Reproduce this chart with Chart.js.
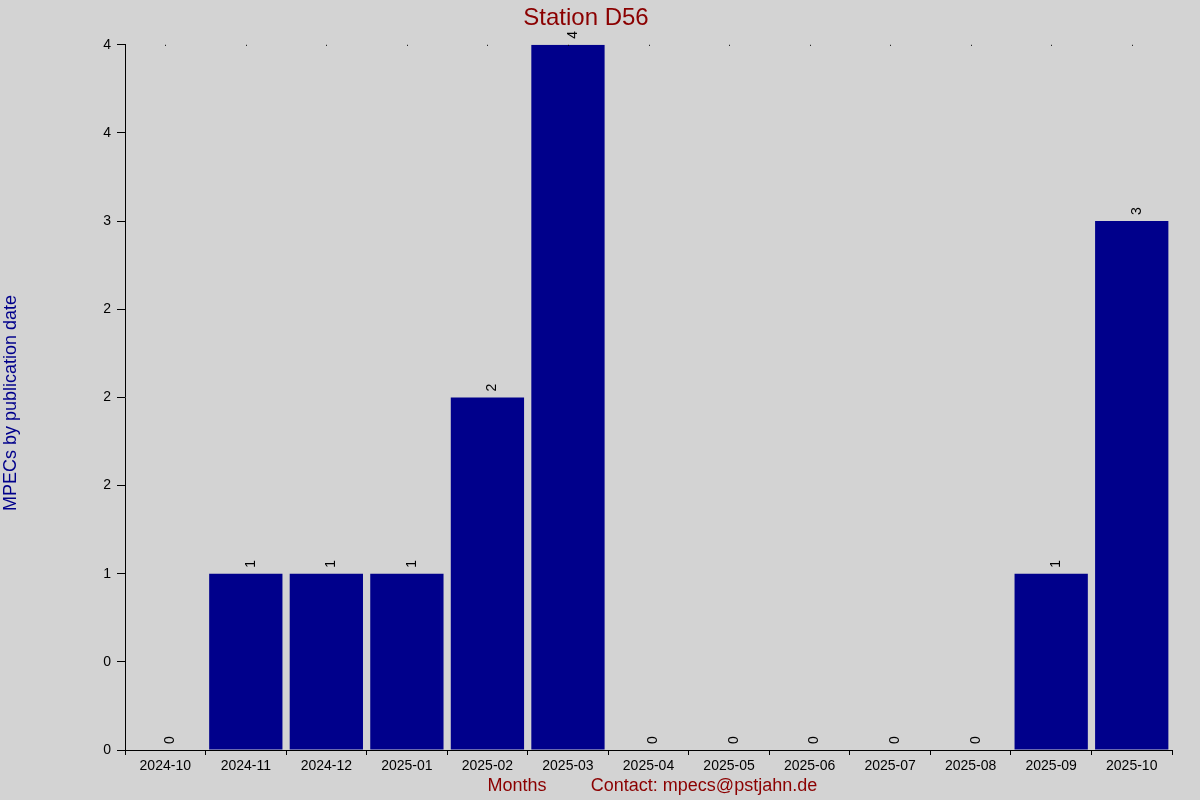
<!DOCTYPE html>
<html><head><meta charset="utf-8">
<script src="https://cdn.jsdelivr.net/npm/chart.js@4"></script>
<style>html,body{margin:0;background:#d3d3d3}#w{width:1200px;height:800px}</style>
</head><body><div id="w"><canvas id="c" width="1200" height="800"></canvas></div>
<script>
const categories=["2024-10","2024-11","2024-12","2025-01","2025-02","2025-03","2025-04","2025-05","2025-06","2025-07","2025-08","2025-09","2025-10"];
const values=[0,1,1,1,2,4,0,0,0,0,0,1,3];
const titleText="Station D56";
const yTitle="MPECs by publication date";
const xTitle="Months";
const contact="Contact: mpecs@pstjahn.de";
const F="'Liberation Sans', Arial, sans-serif";
const fmt=v=>{let r=Math.round(v);if(Math.abs(v-Math.floor(v)-0.5)<1e-9){const f=Math.floor(v);r=(f%2===0)?f:f+1;}return String(r);};
const extras={id:'extras',afterDatasetsDraw(ch){const ctx=ch.ctx;const m=ch.getDatasetMeta(0);ctx.save();ctx.fillStyle='#000';ctx.font='14px '+F;
m.data.forEach((b,i)=>{ctx.save();ctx.translate(b.x+5,b.y-6);ctx.rotate(-Math.PI/2);ctx.textAlign='left';ctx.textBaseline='middle';ctx.fillText(String(values[i]),0,0);ctx.restore();});
// top dots
const xs=ch.scales.x;ctx.fillStyle='#000';m.data.forEach(b=>ctx.fillRect(Math.round(b.x),ch.chartArea.top,1,1));
ctx.font='18px '+F;ctx.fillStyle='#8b0000';ctx.textBaseline='middle';ctx.textAlign='center';
ctx.fillText(xTitle,517,786);ctx.fillText(contact,704,786);
ctx.fillStyle='#00008b';ctx.translate(11,403);ctx.rotate(-Math.PI/2);ctx.fillText(yTitle,0,0);
ctx.restore();}};
new Chart(document.getElementById('c'),{type:'bar',
data:{labels:categories,datasets:[{data:values,backgroundColor:'#00008b',categoryPercentage:1,barPercentage:0.91}]},
options:{responsive:false,animation:false,devicePixelRatio:1,
layout:{padding:{left:0,right:28,top:0,bottom:0}},
plugins:{legend:{display:false},tooltip:{enabled:false},
title:{display:true,text:titleText,color:'#8b0000',font:{family:F,size:24,weight:'normal'},padding:{top:4,bottom:12}}},
scales:{
x:{grid:{display:true,drawOnChartArea:false,tickLength:5,color:'#000'},border:{color:'#000'},ticks:{color:'#000',font:{family:F,size:14},maxRotation:0,padding:3},afterFit(s){s.height=50;}},
y:{min:0,max:4,grid:{drawOnChartArea:false,tickLength:8,color:'#000'},border:{color:'#000'},
ticks:{stepSize:0.5,color:'#000',font:{family:F,size:14},callback:v=>fmt(v),padding:6},afterFit(s){s.width=125;}}}},
plugins:[extras]});
</script></body></html>
